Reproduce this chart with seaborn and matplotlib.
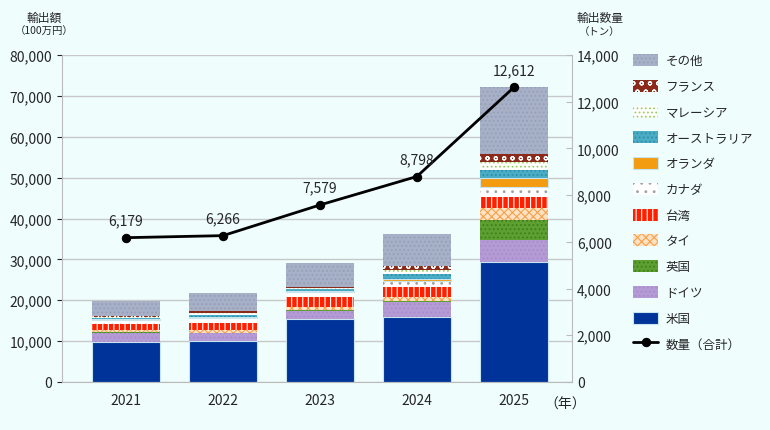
import numpy as np
import pandas as pd
import seaborn as sns
import matplotlib.pyplot as plt

years = ["2021", "2022", "2023", "2024", "2025"]
# export value by destination (100万円), bottom to top
us = [9900, 10000, 15400, 15800, 29300]
germany = [2200, 2000, 2000, 3700, 5400]
uk = [100, 100, 200, 400, 4900]
thailand = [600, 600, 800, 800, 2900]
taiwan = [1500, 1800, 2500, 2500, 2700]
canada = [800, 1200, 1000, 1500, 2400]
netherlands = [300, 300, 400, 600, 2200]
australia = [300, 500, 400, 1000, 2100]
malaysia = [200, 400, 300, 1000, 2000]
france = [300, 500, 300, 1000, 1900]
others = [3600, 4400, 5800, 8000, 16300]
quantity = [6179, 6266, 7579, 8798, 12612]

series = [
    ("米国", us, "#003399", None, "#003399"),
    ("ドイツ", germany, "#b59bd6", "....", "#a88cc8"),
    ("英国", uk, "#5e9f32", "....", "#3f7f1a"),
    ("タイ", thailand, "#fde3c4", "xxxx", "#f5a04a"),
    ("台湾", taiwan, "#ff2000", "|||", "white"),
    ("カナダ", canada, "white", "..", "#a0a0a0"),
    ("オランダ", netherlands, "#f39c12", None, "#f39c12"),
    ("オーストラリア", australia, "#4bacc6", "....", "#2f8fa8"),
    ("マレーシア", malaysia, "white", "....", "#9bd060"),
    ("フランス", france, "#8b2a1a", "oo", "white"),
    ("その他", others, "#a7b0c6", "....", "#93a0b8"),
]

sns.set_style("white")
plt.rcParams['font.family'] = ['Noto Sans CJK JP', 'DejaVu Sans']
plt.rcParams['hatch.linewidth'] = 0.8

bg = "#effdfd"
fig = plt.figure(figsize=(7.7, 4.31), dpi=100, facecolor=bg)
ax = fig.add_axes([62/770, 1-383/431, 510/770, 327/431])
ax.set_facecolor(bg)
x = np.arange(len(years))
bottom = np.zeros(len(years))
handles = []
for name, vals, fc, hatch, ec in series:
    b = ax.bar(x, vals, 0.7, bottom=bottom, color=fc, hatch=hatch,
               edgecolor=ec if hatch else "#c8e4ec", linewidth=0.0 if hatch else 0.8, label=name)
    bottom += np.array(vals)
    handles.append(b)
ax.set_ylim(0, 80000)
ax.set_xlim(-0.66, 4.6)
ax.set_yticks(range(0, 80001, 10000))
ax.set_yticklabels([f"{v:,}" for v in range(0, 80001, 10000)], fontsize=10)
ax.yaxis.grid(True, color="#c8c8c8", linewidth=1)
ax.set_axisbelow(True)
ax.set_xticks(x)
ax.set_xticklabels(years, fontsize=10)
ax.tick_params(axis="x", length=0, pad=8)
for s in ["top", "right"]:
    ax.spines[s].set_visible(False)
ax.spines["left"].set_color("#bbbbbb")
ax.spines["bottom"].set_color("#bbbbbb")

ax2 = ax.twinx()
df = pd.DataFrame({"x": x, "q": quantity})
sns.lineplot(data=df, x="x", y="q", ax=ax2, color="black", lw=2, marker="o",
             markersize=6, markeredgecolor="black", label="数量（合計）", legend=False)
for xi, q in zip(x, quantity):
    ax2.text(xi, q + 450, f"{q:,}", ha="center", va="bottom", fontsize=10)
ax2.set_ylim(0, 14000)
ax2.set_xlim(-0.66, 4.6)
ax2.set_yticks(range(0, 14001, 2000))
ax2.set_yticklabels([f"{v:,}" for v in range(0, 14001, 2000)], fontsize=10)
ax2.set_ylabel("")
ax2.set_xlabel("")
for s in ["top", "left"]:
    ax2.spines[s].set_visible(False)
ax2.spines["right"].set_color("#bbbbbb")
ax2.spines["bottom"].set_visible(False)
ax2.tick_params(axis="y", direction="in", length=4, color="#bbbbbb")

line_h = ax2.get_lines()[0]
fig.legend(handles[::-1] + [line_h], [s[0] for s in series[::-1]] + ["数量（合計）"],
           loc="upper left", bbox_to_anchor=(628/770, 1-50/431), frameon=False,
           fontsize=9, handlelength=2.0, handleheight=1.1, labelspacing=1.0,
           handletextpad=0.6, borderaxespad=0)

fig.text(44/770, 1-18/431, "輸出額", ha="center", va="center", fontsize=8.5)
fig.text(44/770, 1-32/431, "（100万円）", ha="center", va="center", fontsize=7.5)
fig.text(600/770, 1-18/431, "輸出数量", ha="center", va="center", fontsize=8.5)
fig.text(600/770, 1-32/431, "（トン）", ha="center", va="center", fontsize=7.5)
fig.text(565/770, 1-405/431, "（年）", ha="center", va="center", fontsize=10)

fig.savefig("out.png", dpi=100, facecolor=bg)
